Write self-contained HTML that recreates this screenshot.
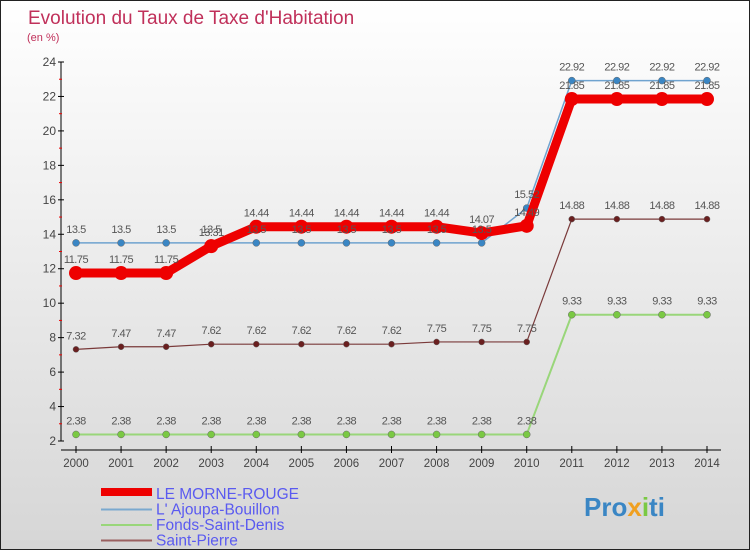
<!DOCTYPE html>
<html><head><meta charset="utf-8"><style>
body{margin:0}
#wrap{width:750px;height:550px;position:relative;overflow:hidden;background:linear-gradient(#ffffff,#d6d6d6);box-sizing:border-box;border:1px solid #222}
svg{position:absolute;left:0;top:0}
text{font-family:"Liberation Sans",sans-serif}
</style></head><body>
<div id="wrap">
<svg id="chart" width="750" height="550">
<text x="27" y="23" font-size="19" fill="#c0305a">Evolution du Taux de Taxe d'Habitation</text>
<text x="26" y="40" font-size="11" fill="#c0305a">(en %)</text>
</svg>
</div>
<script>
const years=[2000,2001,2002,2003,2004,2005,2006,2007,2008,2009,2010,2011,2012,2013,2014];
const yTicks=[2,4,6,8,10,12,14,16,18,20,22,24];
const morneRouge=[11.75,11.75,11.75,13.31,14.44,14.44,14.44,14.44,14.44,14.07,14.49,21.85,21.85,21.85,21.85];
const ajoupa=[13.5,13.5,13.5,13.5,13.5,13.5,13.5,13.5,13.5,13.5,15.52,22.92,22.92,22.92,22.92];
const fonds=[2.38,2.38,2.38,2.38,2.38,2.38,2.38,2.38,2.38,2.38,2.38,9.33,9.33,9.33,9.33];
const saintPierre=[7.32,7.47,7.47,7.62,7.62,7.62,7.62,7.62,7.75,7.75,7.75,14.88,14.88,14.88,14.88];
const seriesNames=["LE MORNE-ROUGE","L' Ajoupa-Bouillon","Fonds-Saint-Denis","Saint-Pierre"];

const svg=document.getElementById('chart');const NS="http://www.w3.org/2000/svg";
function X(i){return 75+i*(706-75)/(years.length-1);}
function Y(v){return 440-(v-2)*(440-61)/22;}
function mk(t,a,p){const e=document.createElementNS(NS,t);for(const k in a)e.setAttribute(k,a[k]);(p||svg).appendChild(e);return e;}

let ax=mk('line',{x1:60,y1:61,x2:60,y2:440,stroke:'#000','stroke-width':1});


let bx=mk('line',{x1:60,y1:449,x2:720,y2:449,stroke:'#000','stroke-width':1});


yTicks.forEach(v=>{
  mk('line',{x1:57,y1:Y(v),x2:63,y2:Y(v),stroke:'#000'});
  if(v<24)mk('line',{x1:58,y1:Y(v+1),x2:61,y2:Y(v+1),stroke:'#e00'});
  const t=mk('text',{x:55,y:Y(v)+4,'font-size':12,fill:'#444','text-anchor':'end'});t.textContent=v;
  
  
});
years.forEach((y,i)=>{
  mk('line',{x1:X(i),y1:445,x2:X(i),y2:452,stroke:'#000'});
  const t=mk('text',{x:X(i),y:466,'font-size':11.5,fill:'#444','text-anchor':'middle'});t.textContent=y;
  
  
});

const labelLayer=[];
function series(data,color,lw,r,fill,name){
  const g=mk('g',{});
  
  
  mk('polyline',{points:data.map((v,i)=>X(i)+','+Y(v)).join(' '),fill:'none',stroke:color,'stroke-width':lw,'stroke-linejoin':'round'},g);
  data.forEach((v,i)=>{
    const c=mk('circle',{cx:X(i),cy:Y(v),r:r,fill:fill,stroke:'#666','stroke-width':r>4?0:0.5},g);
    
    
    labelLayer.push([X(i),Y(v)-10,v]);
  });
}
series(saintPierre,'#7a3a3a',1.2,3,'#6a1f1f','series-saint-pierre');
series(fonds,'#99d67a',2,3.5,'#7ac943','series-fonds-saint-denis');
series(ajoupa,'#6fa3cf',1.5,3.5,'#3a86c4','series-ajoupa-bouillon');
series(morneRouge,'#ee0000',9,7,'#ee0000','series-le-morne-rouge');
labelLayer.forEach(([x,y,v])=>{
  const t=mk('text',{x:x,y:y,'font-size':11,fill:'#555','text-anchor':'middle','letter-spacing':'-0.5'});t.textContent=v;
  
  
});

const lc=['#ee0000','#7aa9cf','#99d67a','#9a6060'],lw=[8,2,2,2];
seriesNames.forEach((n,i)=>{
  const yy=493+i*15.5;
  const g=mk('g',{});
  
  
  mk('line',{x1:100,y1:yy+(i==0?-2:0),x2:151,y2:yy+(i==0?-2:0),stroke:lc[i],'stroke-width':lw[i]},g);
  const t=mk('text',{x:155,y:yy+5,'font-size':15.5,fill:'#5a5af0'},g);t.textContent=n;
});
const p=mk('text',{x:583,y:515,'font-size':26,'font-weight':'bold',fill:'#f0a020'});


const parts=[['Pro','#3a86c4'],['x','#f0a020'],['i','#7ac943'],['ti','#3a86c4']];
parts.forEach(([s,c])=>{const ts=mk('tspan',{fill:c},p);ts.textContent=s;});
</script>
</body></html>
